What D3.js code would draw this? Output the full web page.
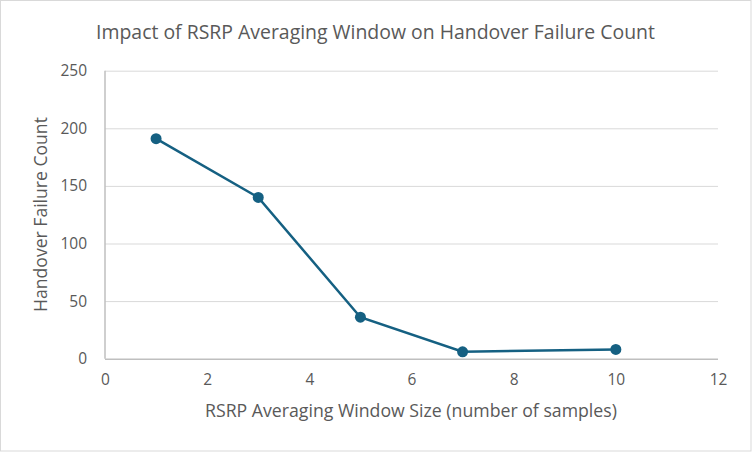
<!DOCTYPE html>
<html><head><meta charset="utf-8">
<script src="https://cdn.jsdelivr.net/npm/d3@7"></script>
<style>body{margin:0;background:#fff;} svg{display:block;}</style>
</head><body>
<svg id="c" width="752" height="452"></svg>
<script>
const windowSizes = [1, 3, 5, 7, 10];
const failureCounts = [191, 140, 36, 6, 8];
const xTicks = [0, 2, 4, 6, 8, 10, 12];
const yTicks = [0, 50, 100, 150, 200, 250];
const titleText = "Impact of RSRP Averaging Window on Handover Failure Count";
const xTitle = "RSRP Averaging Window Size (number of samples)";
const yTitle = "Handover Failure Count";

const svg = d3.select("#c");
const W = 752, H = 452;
const m = {left: 105, right: 34, top: 70.7, bottom: 93.3};
const x = d3.scaleLinear().domain([0, 12]).range([m.left, W - m.right]);
const y = d3.scaleLinear().domain([0, 250]).range([H - m.bottom, m.top]);
const font = "'Open Sans', sans-serif";
const gray = "#595959";

function fit(sel, target) {
  const w = sel.node().getComputedTextLength();
  const fs = parseFloat(sel.attr("font-size"));
  sel.attr("font-size", (fs * target / w).toFixed(2));
}

svg.append("rect").attr("x", 0.5).attr("y", 0.5).attr("width", W - 1.5).attr("height", H - 1.5)
  .attr("fill", "#fff").attr("stroke", "#d9d9d9").attr("stroke-width", 1);

const gy = svg.append("g").attr("transform", `translate(${m.left},0)`)
  .call(d3.axisLeft(y).tickValues(yTicks).tickSize(-(W - m.right - m.left)).tickFormat(d => d).tickPadding(18));
gy.select(".domain").remove();
gy.selectAll(".tick line").attr("stroke", d => d === 0 ? "#bfbfbf" : "#d9d9d9").attr("stroke-width", d => d === 0 ? 1.5 : 1);
gy.selectAll(".tick text").attr("fill", gray).attr("font-size", 15.5).attr("font-family", font);

svg.append("line").attr("x1", m.left).attr("x2", m.left).attr("y1", y(250)).attr("y2", y(0))
  .attr("stroke", "#bfbfbf").attr("stroke-width", 1.5);

const gx = svg.append("g").attr("transform", `translate(0,${y(0)})`)
  .call(d3.axisBottom(x).tickValues(xTicks).tickSize(0).tickPadding(15).tickFormat(d => d));
gx.select(".domain").remove();
gx.selectAll(".tick text").attr("fill", gray).attr("font-size", 15.5).attr("font-family", font);

const data = windowSizes.map((d, i) => ({x: d, y: failureCounts[i]}));
svg.append("path").datum(data)
  .attr("d", d3.line().x(d => x(d.x)).y(d => y(d.y)))
  .attr("fill", "none").attr("stroke", "#156082").attr("stroke-width", 2.5);
svg.selectAll("circle.pt").data(data).join("circle").attr("class", "pt")
  .attr("cx", d => x(d.x)).attr("cy", d => y(d.y)).attr("r", 5.5).attr("fill", "#156082");

const t = svg.append("text").attr("x", 375.5).attr("y", 39).attr("text-anchor", "middle")
  .attr("font-family", font).attr("font-size", 18).attr("fill", gray).text(titleText);
fit(t, 559);
const xt = svg.append("text").attr("x", 411).attr("y", 417).attr("text-anchor", "middle")
  .attr("font-family", font).attr("font-size", 16).attr("fill", gray).text(xTitle);
fit(xt, 412);
const yt = svg.append("text").attr("transform", "translate(47,214.5) rotate(-90)").attr("text-anchor", "middle")
  .attr("font-family", font).attr("font-size", 16).attr("fill", gray).text(yTitle);
fit(yt, 195);
</script>
</body></html>
